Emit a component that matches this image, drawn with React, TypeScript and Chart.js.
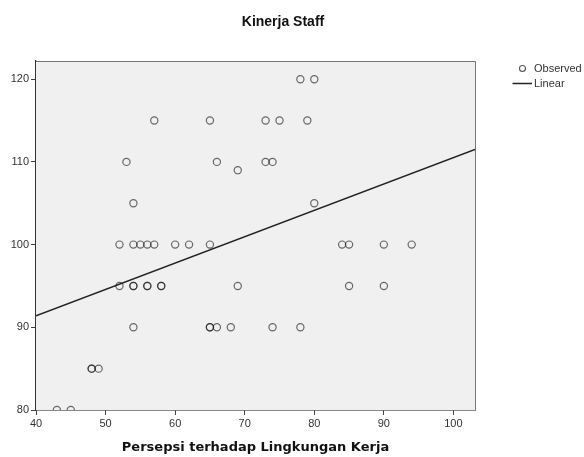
import React, { useEffect, useRef } from "react";
import { Chart, registerables } from "chart.js";

Chart.register(...registerables);

const chartTitle = "Kinerja Staff";
const xAxisTitle = "Persepsi terhadap Lingkungan Kerja";
const legendLabels = ["Observed", "Linear"];

// Observed points: x = Persepsi, y = Kinerja
const obsX = [
  78, 80,
  57, 65, 73, 75, 79,
  53, 66, 73, 74,
  69,
  54, 80,
  52, 54, 55, 56, 57, 60, 62, 65, 84, 85, 90, 94,
  52, 54, 54, 56, 56, 58, 58, 69, 85, 90,
  54, 65, 65, 66, 68, 74, 78,
  48, 48, 49,
  43, 45,
];
const obsY = [
  120, 120,
  115, 115, 115, 115, 115,
  110, 110, 110, 110,
  109,
  105, 105,
  100, 100, 100, 100, 100, 100, 100, 100, 100, 100, 100, 100,
  95, 95, 95, 95, 95, 95, 95, 95, 95, 95,
  90, 90, 90, 90, 90, 90, 90,
  85, 85, 85,
  80, 80,
];

// Linear fit line endpoints
const fitX = [40, 103.1];
const fitY = [91.4, 111.5];

const xTicks = [40, 50, 60, 70, 80, 90, 100];
const yTicks = [80, 90, 100, 110, 120];

const xMin = 40;
const xMax = 103.1;
const yMin = 80;
const yMax = 122.2;

const plotDecor = {
  id: "plotDecor",
  beforeDatasetsDraw(chart: any) {
    const { ctx, chartArea: a } = chart;
    ctx.save();
    ctx.fillStyle = "#f0f0f0";
    ctx.fillRect(a.left, a.top, a.right - a.left, a.bottom - a.top);
    ctx.restore();
  },
  afterDraw(chart: any) {
    const { ctx, chartArea: a } = chart;
    ctx.save();
    ctx.strokeStyle = "#777";
    ctx.lineWidth = 1;
    ctx.beginPath();
    ctx.moveTo(a.left, a.top + 0.5);
    ctx.lineTo(a.right + 0.5, a.top + 0.5);
    ctx.lineTo(a.right + 0.5, a.bottom);
    ctx.stroke();

    // title
    ctx.fillStyle = "#111";
    ctx.font = "bold 14px 'Liberation Sans', Arial, sans-serif";
    ctx.textAlign = "center";
    ctx.textBaseline = "middle";
    ctx.fillText(chartTitle, 283, 22);

    // legend
    ctx.font = "11px 'Liberation Sans', Arial, sans-serif";
    ctx.textAlign = "left";
    ctx.fillStyle = "#333";
    ctx.strokeStyle = "#555";
    ctx.lineWidth = 1.1;
    ctx.beginPath();
    ctx.arc(522.5, 68.5, 3, 0, Math.PI * 2);
    ctx.stroke();
    ctx.fillText(legendLabels[0], 534, 69);
    ctx.strokeStyle = "#222";
    ctx.lineWidth = 1.5;
    ctx.beginPath();
    ctx.moveTo(512.5, 83.5);
    ctx.lineTo(532, 83.5);
    ctx.stroke();
    ctx.fillText(legendLabels[1], 534, 84);
    ctx.restore();
  },
};

export default function App() {
  const ref = useRef<HTMLCanvasElement>(null);
  useEffect(() => {
    document.body.style.margin = "0";
    const canvas = ref.current;
    if (!canvas) return;
    const tickFont = { family: "'Liberation Sans', Arial, sans-serif", size: 11 };
    const chart = new Chart(canvas, {
      type: "scatter",
      data: {
        datasets: [
          {
            type: "line",
            label: legendLabels[1],
            data: fitX.map((x, i) => ({ x, y: fitY[i] })),
            borderColor: "#222",
            borderWidth: 1.5,
            pointRadius: 0,
            fill: false,
          } as any,
          {
            label: legendLabels[0],
            data: obsX.map((x, i) => ({ x, y: obsY[i] })),
            pointRadius: 3.6,
            pointBorderWidth: 1.2,
            pointBackgroundColor: "rgba(0,0,0,0)",
            pointBorderColor: "rgba(20,20,20,0.62)",
          },
        ],
      },
      options: {
        responsive: false,
        animation: false,
        devicePixelRatio: 1,
        layout: { padding: { top: 61, right: 109, left: 0, bottom: 0 } },
        plugins: {
          legend: { display: false },
          title: { display: false },
          tooltip: { enabled: false },
        },
        scales: {
          x: {
            type: "linear",
            min: xMin,
            max: xMax,
            afterBuildTicks: (s: any) => {
              s.ticks = xTicks.map((v) => ({ value: v }));
            },
            afterFit: (s: any) => {
              s.height = 47;
            },
            ticks: {
              color: "#333",
              font: tickFont,
              padding: 2,
              maxRotation: 0,
              autoSkip: false,
              callback: (v: any) => String(v),
            },
            grid: { display: true, drawOnChartArea: false, drawTicks: true, tickLength: 5, color: "#444" },
            border: { display: true, color: "#111", width: 1.5 },
            title: {
              display: true,
              text: xAxisTitle,
              color: "#111",
              font: { family: "'DejaVu Sans', sans-serif", weight: "bold", size: 13 },
              padding: { top: 0, bottom: 2 },
            },
          },
          y: {
            type: "linear",
            min: yMin,
            max: yMax,
            afterBuildTicks: (s: any) => {
              s.ticks = yTicks.map((v) => ({ value: v }));
            },
            afterFit: (s: any) => {
              s.width = 36;
            },
            ticks: {
              color: "#333",
              font: tickFont,
              padding: 2,
              autoSkip: false,
              callback: (v: any) => String(v),
            },
            grid: { display: true, drawOnChartArea: false, drawTicks: true, tickLength: 5, color: "#444" },
            border: { display: true, color: "#333", width: 1.2 },
          },
        },
      } as any,
      plugins: [plotDecor],
    });
    return () => chart.destroy();
  }, []);
  return (
    <div style={{ width: 584, height: 457, background: "#fff" }}>
      <canvas ref={ref} width={584} height={457} style={{ display: "block" }} />
    </div>
  );
}
